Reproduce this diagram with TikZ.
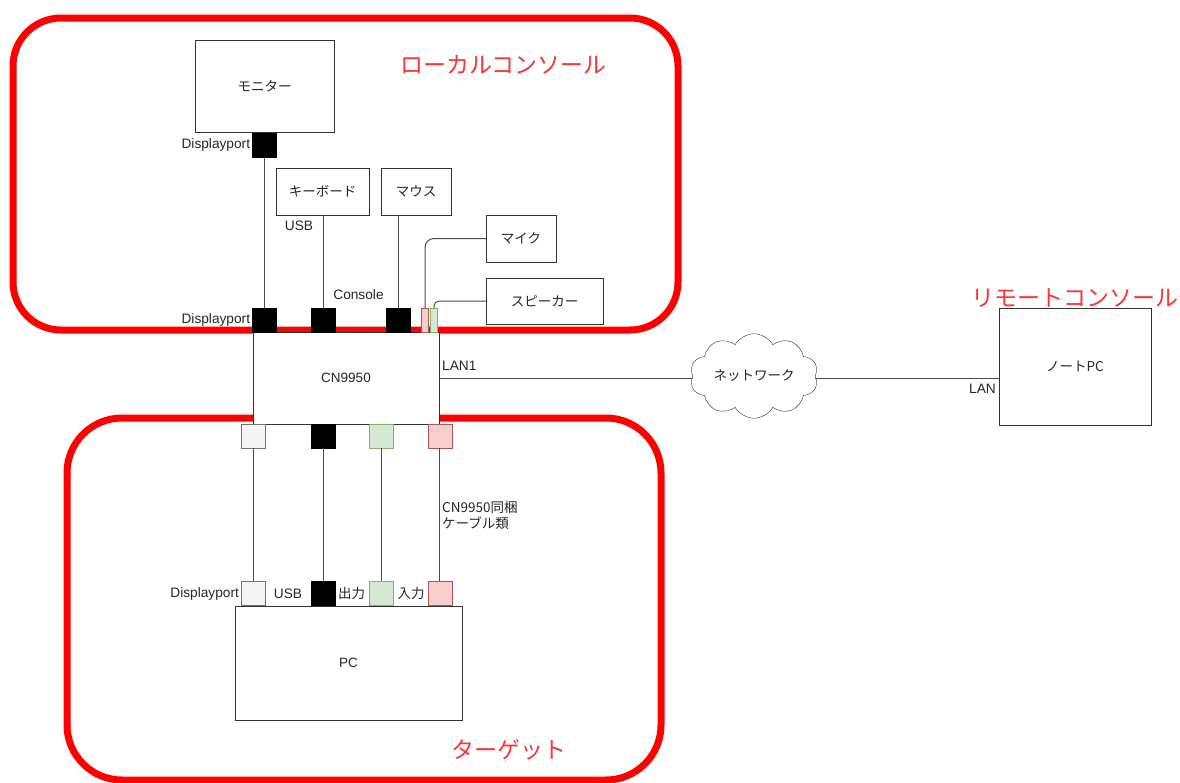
\documentclass[tikz,border=0pt]{standalone}
\usepackage{fontspec}
\setmainfont{Liberation Sans}
\newfontfamily\jp{Noto Sans CJK JP}
\usetikzlibrary{positioning,shapes.symbols}
\definecolor{zonered}{HTML}{FF0000}
\definecolor{titlered}{HTML}{FF3333}
\definecolor{gfill}{HTML}{D5E8D4}
\definecolor{gline}{HTML}{82B366}
\definecolor{rfill}{HTML}{F8CECC}
\definecolor{rline}{HTML}{B85450}

\begin{document}
\begin{tikzpicture}[x=1pt,y=-1pt,
      zone/.style={draw=zonered, line width=7pt, rounded corners=48pt},
      ztitle/.style={text=titlered, font=\jp\fontsize{23}{26}\selectfont, inner sep=0pt},
      box/.style={draw=black!80, fill=white, text=black!85, inner sep=0pt, font=\jp\fontsize{13.5}{16}\selectfont},
      lbox/.style={box, font=\fontsize{13.5}{16}\selectfont},
      port/.style={draw, minimum width=24pt, minimum height=24pt, inner sep=0pt},
      portk/.style={port, fill=black},
      portw/.style={port, draw=black!55, fill=black!4},
      portg/.style={port, draw=gline, fill=gfill},
      portr/.style={port, draw=rline, fill=rfill},
      jackr/.style={portr, minimum width=7pt},
      jackg/.style={portg, minimum width=7pt},
      lbl/.style={text=black!85, inner sep=1pt, font=\fontsize{13.7}{16}\selectfont},
      jlbl/.style={lbl, font=\jp\fontsize{13.5}{16}\selectfont},
      wire/.style={draw=black!70, line width=1pt}
    ]
    \useasboundingbox (0,0) rectangle (1180,782);

    % the three areas
    \draw[zone] (13,18) rectangle (678,330);
    \draw[zone, rounded corners=55pt] (67,418) rectangle (661,780);
    \node[ztitle] (tlocal)  at (503.5,65)  {ローカルコンソール};
    \node[ztitle] (tremote) at (1075,298)  {リモートコンソール};
    \node[ztitle] (ttarget) at (508.5,750) {ターゲット};

    % devices
    \node[box, minimum width=139pt, minimum height=92pt] (monitor) at (264.5,86)    {モニター};
    \node[box, minimum width=93pt,  minimum height=47pt] (kbd)     at (322.5,191.5) {キーボード};
    \node[box, minimum width=70pt,  minimum height=47pt] (mouse)   at (416,191.5)   {マウス};
    \node[box, minimum width=70pt,  minimum height=47pt] (mic)     at (521,238.5)   {マイク};
    \node[box, minimum width=117pt, minimum height=46pt] (spk)     at (544.5,301)   {スピーカー};
    \node[lbox, minimum width=186pt, minimum height=92pt] (kvm)    at (346,378)     {CN9950};
    \node[lbox, minimum width=227pt, minimum height=114pt] (pc)    at (348.5,663)   {PC};
    \node[box, minimum width=152pt, minimum height=117pt] (note)   at (1075,366.5)  {ノートPC};
    \node[cloud, draw=black!80, fill=white, cloud puffs=10, cloud puff arc=120, aspect=1.7,
          minimum width=128pt, minimum height=74pt, inner sep=0pt, text=black!85,
          font=\jp\fontsize{13.5}{16}\selectfont] (net) at (754,376) {ネットワーク};

    % ports
    \node[portk] (mondp)  at (264.5,145) {};
    \node[portk] (condp)  at (264.5,320) {};
    \node[portk] (conusb) at (323,320)   {};
    \node[portk] (conms)  at (398.5,320) {};
    \node[jackr] (conmic) at (425,320)   {};
    \node[jackg] (conspk) at (434,320)   {};

    \node[portw] (kdp)  at (253.3,436) {};
    \node[portk] (kusb) at (323,436)   {};
    \node[portg] (kout) at (381.3,436) {};
    \node[portr] (kin)  at (439.7,436) {};

    \node[portw] (pdp)  at (253.3,593.5) {};
    \node[portk] (pusb) at (323,593.5)   {};
    \node[portg] (pout) at (381.3,593.5) {};
    \node[portr] (pin)  at (439.7,593.5) {};

    % cables
    \draw[wire] (mondp) -- (condp);
    \draw[wire] (kbd.south -| conusb) -- (conusb);
    \draw[wire] (mouse.south -| conms) -- (conms);
    \draw[wire, rounded corners=9pt] (conmic.north) |- (mic.west);
    \draw[wire, rounded corners=5pt] (conspk.north) |- (spk.west);
    \draw[wire] (kdp) -- (pdp);
    \draw[wire] (kusb) -- (pusb);
    \draw[wire] (kout) -- (pout);
    \draw[wire] (kin) -- (pin);
    \draw[wire] (kvm.east) -- (kvm.east -| net.west);
    \draw[wire] (kvm.east -| net.east) -- (kvm.east -| note.west);

    % labels
    \node[lbl, left=1pt of mondp] (lmondp) {Displayport};
    \node[lbl, left=1pt of condp] (lcondp) {Displayport};
    \node[lbl] (lusb) at (299,226) {USB};
    \node[lbl] (lcon) at (358.5,295) {Console};
    \node[lbl, anchor=west] (llan1) at (441,366) {LAN1};
    \node[lbl, anchor=east] (llan) at (997,389) {LAN};
    \node[jlbl, anchor=north west, align=left] (lbundle) at (441,500) {CN9950同梱\\ケーブル類};
    \node[lbl, left=1pt of pdp] (lpdp) {Displayport};
    \node[lbl] (lpusb) at (288,593.5) {USB};
    \node[jlbl] (lpout) at (351.5,593.5) {出力};
    \node[jlbl] (lpin)  at (411,593.5) {入力};
  \end{tikzpicture}
\end{document}
